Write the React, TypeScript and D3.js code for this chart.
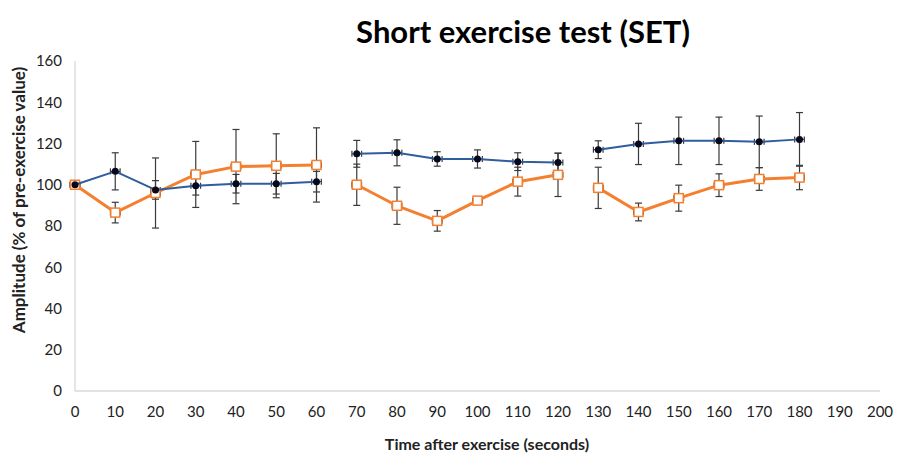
import React, { useEffect, useRef } from 'react';
import * as d3 from 'd3';

const times = [0, 10, 20, 30, 40, 50, 60, 70, 80, 90, 100, 110, 120, 130, 140, 150, 160, 170, 180];
// recording block of each point; lines are broken between blocks
const phases = [1, 1, 1, 1, 1, 1, 1, 2, 2, 2, 2, 2, 2, 3, 3, 3, 3, 3, 3];

const blueMean = [100, 106.5, 97.5, 99.5, 100.5, 100.5, 101.5, 115, 115.5, 112.5, 112.5, 111.2, 110.8, 117, 119.8, 121.3, 121.3, 120.8, 122];
const blueErr = [0, 9, 4.5, 4.5, 4.5, 5, 5, 6.5, 6.3, 3.5, 4.4, 4.3, 4.5, 4.3, 10, 11.5, 11.5, 12.5, 13];

const orangeMean = [100, 86.5, 96, 105, 108.8, 109.2, 109.6, 100, 89.8, 82.5, 92.3, 101.5, 104.8, 98.5, 86.8, 93.5, 99.8, 102.8, 103.5];
const orangeErr = [0, 5, 17, 16, 18, 15.5, 18, 10, 9, 5, 1.5, 7, 10.5, 10, 4.3, 6.3, 5.5, 5.5, 5.9];

const timeErr = 1.2; // small horizontal error bars

const xTicks = d3.range(0, 201, 10);
const yTicks = d3.range(0, 161, 20);

const W = 901, H = 454;
const FONT = 'Lato, Carlito, "Open Sans", sans-serif';

function App() {
  const svgRef = useRef(null);

  useEffect(() => {
    const svg = d3.select(svgRef.current);
    svg.selectAll('*').remove();

    const x = d3.scaleLinear().domain([0, 200]).range([75, 880]);
    const y = d3.scaleLinear().domain([0, 160]).range([391, 61]);

    // axis lines
    svg.append('line')
      .attr('x1', x(0)).attr('x2', x(0))
      .attr('y1', y(160)).attr('y2', y(0))
      .attr('stroke', '#d9d9d9').attr('stroke-width', 1.3);
    svg.append('line')
      .attr('x1', x(0)).attr('x2', x(200))
      .attr('y1', y(0)).attr('y2', y(0))
      .attr('stroke', '#d9d9d9').attr('stroke-width', 1.3);

    svg.selectAll('.ylab').data(yTicks).enter()
      .append('text')
      .attr('class', 'ylab')
      .attr('x', 62)
      .attr('y', d => y(d))
      .attr('dy', '0.35em')
      .attr('text-anchor', 'end')
      .attr('font-family', FONT)
      .attr('font-size', 15)
      .attr('fill', '#222')
      .text(d => d);

    svg.selectAll('.xlab').data(xTicks).enter()
      .append('text')
      .attr('class', 'xlab')
      .attr('x', d => x(d))
      .attr('y', 412)
      .attr('dy', '0.35em')
      .attr('text-anchor', 'middle')
      .attr('font-family', FONT)
      .attr('font-size', 15)
      .attr('fill', '#222')
      .text(d => d);

    // titles
    svg.append('text')
      .attr('x', 523).attr('y', 43)
      .attr('text-anchor', 'middle')
      .attr('font-family', FONT)
      .attr('font-weight', 'bold')
      .attr('font-size', 31)
      .attr('fill', '#000')
      .text('Short exercise test (SET)');
    svg.append('text')
      .attr('transform', 'translate(25,200) rotate(-90)')
      .attr('text-anchor', 'middle')
      .attr('font-family', FONT)
      .attr('font-weight', 'bold')
      .attr('font-size', 17)
      .attr('fill', '#222')
      .text('Amplitude  (% of pre-exercise value)');
    svg.append('text')
      .attr('x', 487).attr('y', 450)
      .attr('text-anchor', 'middle')
      .attr('font-family', FONT)
      .attr('font-weight', 'bold')
      .attr('font-size', 16)
      .attr('fill', '#222')
      .text('Time after exercise (seconds)');

    const series = [
      { mean: orangeMean, err: orangeErr, color: '#f47f2f', width: 3, marker: 'square' },
      { mean: blueMean, err: blueErr, color: '#2f5d9d', width: 2, marker: 'circle' },
    ];

    const pts = s => times.map((t, i) => ({ t, v: s.mean[i], e: s.err[i], p: phases[i] }));

    // error bars under everything
    series.forEach(s => {
      const g = svg.append('g').attr('stroke', '#3a3a3a').attr('stroke-width', 1.2);
      pts(s).forEach(d => {
        if (d.e > 0) {
          g.append('line').attr('x1', x(d.t)).attr('x2', x(d.t))
            .attr('y1', y(d.v + d.e)).attr('y2', y(d.v - d.e));
          [d.v + d.e, d.v - d.e].forEach(v => {
            g.append('line').attr('x1', x(d.t) - 3.5).attr('x2', x(d.t) + 3.5)
              .attr('y1', y(v)).attr('y2', y(v));
          });
        }
        g.append('line').attr('x1', x(d.t - timeErr)).attr('x2', x(d.t + timeErr))
          .attr('y1', y(d.v)).attr('y2', y(d.v));
        [d.t - timeErr, d.t + timeErr].forEach(t => {
          g.append('line').attr('x1', x(t)).attr('x2', x(t))
            .attr('y1', y(d.v) - 3).attr('y2', y(d.v) + 3);
        });
      });
    });

    const line = d3.line().x(d => x(d.t)).y(d => y(d.v));

    series.forEach(s => {
      const data = pts(s);
      d3.groups(data, d => d.p).forEach(([, seg]) => {
        svg.append('path')
          .attr('d', line(seg))
          .attr('fill', 'none')
          .attr('stroke', s.color)
          .attr('stroke-width', s.width)
          .attr('stroke-linejoin', 'round');
      });
      if (s.marker === 'square') {
        svg.selectAll(null).data(data).enter()
          .append('rect')
          .attr('x', d => x(d.t) - 4.5)
          .attr('y', d => y(d.v) - 4.5)
          .attr('width', 9).attr('height', 9)
          .attr('fill', '#fff')
          .attr('stroke', s.color)
          .attr('stroke-width', 1.5);
      } else {
        svg.selectAll(null).data(data).enter()
          .append('circle')
          .attr('cx', d => x(d.t))
          .attr('cy', d => y(d.v))
          .attr('r', 3.5)
          .attr('fill', '#06091c');
      }
    });
  }, []);

  return (
    <svg ref={svgRef} width={W} height={H}
         style={{ position: 'absolute', left: 0, top: 0, background: '#fff' }} />
  );
}

export default App;
